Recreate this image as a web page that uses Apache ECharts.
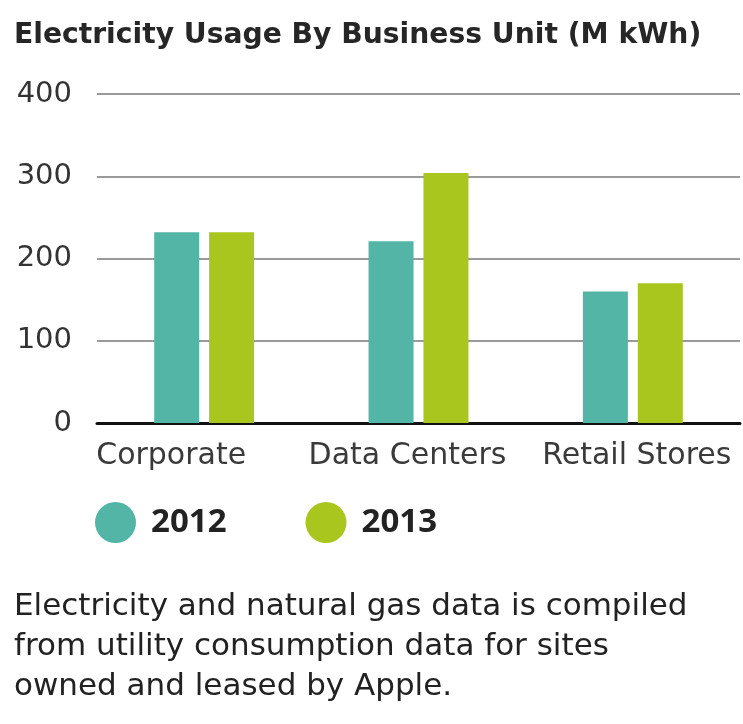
<!DOCTYPE html>
<html>
<head>
<meta charset="utf-8">
<style>
  html, body { margin: 0; padding: 0; background: #ffffff; }
  #chart { width: 743px; height: 724px; }
</style>
<script src="https://cdn.jsdelivr.net/npm/echarts@6/dist/echarts.min.js"></script>
</head>
<body>
<div id="chart"></div>
<script>
// Electricity usage per business unit, million kWh
const categories = ['Corporate', 'Data Centers', 'Retail Stores'];
const years = ['2012', '2013'];
const usage2012 = [232, 221, 160];
const usage2013 = [232, 304, 170];
const yTicks = [0, 100, 200, 300, 400];
const titleText = 'Electricity Usage By Business Unit (M kWh)';
const noteLines = [
  'Electricity and natural gas data is compiled',
  'from utility consumption data for sites',
  'owned and leased by Apple.'
];

const TEAL = '#52b5a6';
const LIME = '#a8c61e';
const FONT = '"DejaVu Sans", "Noto Sans", sans-serif';
const LEGEND_FONT = '"Noto Sans", "Open Sans", sans-serif';

// horizontal nudge (px) of each category label relative to its band centre
const labelNudge = [-33, -11, 4];
const axisCategories = categories.map((name, i) => {
  const n = labelNudge[i];
  return {
    value: name,
    textStyle: { padding: n < 0 ? [0, -2 * n, 0, 0] : [0, 0, 0, 2 * n] }
  };
});

const chart = echarts.init(document.getElementById('chart'), null, { renderer: 'canvas' });

chart.setOption({
  backgroundColor: '#ffffff',
  animation: false,
  title: {
    text: titleText,
    left: 9,
    top: 17,
    textStyle: { fontFamily: FONT, fontSize: 28.2, fontWeight: 'bold', color: '#262626' }
  },
  legend: {
    data: years,
    left: 90,
    top: 497,
    icon: 'circle',
    itemWidth: 41,
    itemHeight: 41,
    itemGap: 79,
    textStyle: {
      fontFamily: LEGEND_FONT, fontSize: 33, fontWeight: 'bold', color: '#222',
      padding: [0, 0, 0, 10]
    }
  },
  grid: { left: 97, right: 3, top: 94, bottom: 301, containLabel: false },
  xAxis: {
    type: 'category',
    data: axisCategories,
    axisLine: { lineStyle: { color: '#111', width: 3 } },
    axisTick: { show: false },
    axisLabel: { fontFamily: FONT, fontSize: 30, color: '#3a3a3a', margin: 18, interval: 0 }
  },
  yAxis: {
    type: 'value',
    min: yTicks[0],
    max: yTicks[yTicks.length - 1],
    interval: 100,
    axisLine: { show: false },
    axisTick: { show: false },
    axisLabel: { fontFamily: FONT, fontSize: 29, color: '#333', margin: 25 },
    splitLine: { lineStyle: { color: '#9a9a9a', width: 2 } }
  },
  series: [
    { name: years[0], type: 'bar', data: usage2012, barWidth: 45, barGap: '22%', itemStyle: { color: TEAL } },
    { name: years[1], type: 'bar', data: usage2013, barWidth: 45, itemStyle: { color: LIME } }
  ],
  graphic: [{
    type: 'text',
    left: 14,
    top: 587,
    style: {
      text: noteLines.join('\n'),
      fontFamily: FONT,
      fontSize: 31,
      lineHeight: 40,
      fill: '#222'
    }
  }]
});
</script>
</body>
</html>
